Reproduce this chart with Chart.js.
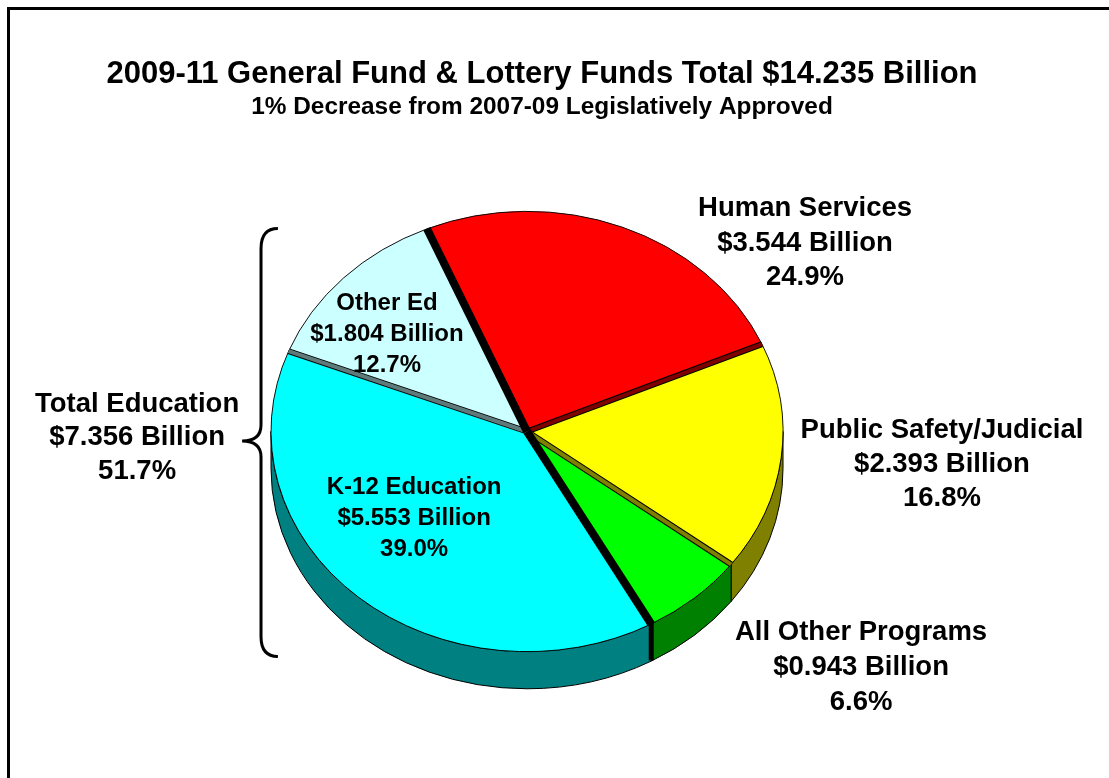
<!DOCTYPE html>
<html>
<head>
<meta charset="utf-8">
<title>2009-11 General Fund & Lottery Funds</title>
<script src="https://cdn.jsdelivr.net/npm/chart.js@4.4.1/dist/chart.umd.min.js"></script>
<style>
  html, body { margin: 0; padding: 0; background: #fff; }
  #wrap { position: relative; width: 1109px; height: 778px; }
  canvas { display: block; }
</style>
</head>
<body>
<div id="wrap"><canvas id="budgetPie" width="1109" height="778"></canvas></div>
<script>
// data
const categories = ["Human Services", "Public Safety/Judicial", "All Other Programs", "K-12 Education", "Other Ed"];
const billions = [3.544, 2.393, 0.943, 5.553, 1.804];
const percents = ["24.9%", "16.8%", "6.6%", "39.0%", "12.7%"];
const topColors = ["#ff0000", "#ffff00", "#00ff00", "#00ffff", "#ccffff"];
const sideColors = ["#800000", "#808000", "#008000", "#008080", "#668080"];
const groupLabel = ["Total Education", "$7.356 Billion", "51.7%"];
const chartTitle = "2009-11 General Fund & Lottery Funds Total $14.235 Billion";
const chartSubtitle = "1% Decrease from 2007-09 Legislatively Approved";

// look of the 3d pie
const tilt = 0.86;        // vertical squash of the top face
const depthRatio = 0.145; // side height / radius
const FONT = "Arial, 'Liberation Sans', Helvetica, sans-serif";

// label anchors, in units of the pie radius from the pie centre
const labelSpots = [
  { dx: 1.086, dy: -0.736, size: 27.5, lh: 34.5 },
  { dx: 1.621, dy: 0.127, size: 27.5, lh: 34 },
  { dx: 1.305, dy: 0.92, size: 27.5, lh: 35 },
  { dx: -0.441, dy: 0.338, size: 24, lh: 31 },
  { dx: -0.547, dy: -0.378, size: 24, lh: 31 },
];
const groupSpot = { dx: -1.523, dy: 0.025, size: 27.5, lh: 33.5 };

function pieGeom(chart) {
  let arcs = chart.getDatasetMeta(0).data;
  let a = arcs[0];
  return { arcs, cx: a.x, cy: a.y, R: a.outerRadius, ry: a.outerRadius * tilt, depth: a.outerRadius * depthRatio };
}

function edgePoint(g, ang) {
  return [g.cx + g.R * Math.cos(ang), g.cy + g.ry * Math.sin(ang)];
}

function radial(ctx, g, ang, width, color) {
  let [ex, ey] = edgePoint(g, ang);
  ctx.beginPath();
  ctx.moveTo(g.cx, g.cy);
  ctx.lineTo(ex, ey);
  ctx.lineWidth = width;
  ctx.strokeStyle = color;
  ctx.lineCap = "butt";
  ctx.stroke();
}

function drawLines(ctx, lines, x, y, size, lh) {
  ctx.font = "bold " + size + "px " + FONT;
  ctx.fillStyle = "#000";
  ctx.textAlign = "center";
  ctx.textBaseline = "middle";
  let top = y - ((lines.length - 1) * lh) / 2;
  lines.forEach((t, i) => ctx.fillText(t, x, top + i * lh));
}

const pie3d = {
  id: "pie3d",
  beforeDatasetsDraw(chart) {
    let ctx = chart.ctx;
    let g = pieGeom(chart);
    // side walls, only the front half is visible
    g.arcs.forEach((arc, i) => {
      [-2, 0, 2].forEach((k) => {
        let lo = Math.max(arc.startAngle, k * Math.PI);
        let hi = Math.min(arc.endAngle, k * Math.PI + Math.PI);
        if (hi <= lo) return;
        ctx.beginPath();
        ctx.ellipse(g.cx, g.cy, g.R, g.ry, 0, lo, hi);
        ctx.ellipse(g.cx, g.cy + g.depth, g.R, g.ry, 0, hi, lo, true);
        ctx.closePath();
        ctx.fillStyle = sideColors[i];
        ctx.fill();
        ctx.lineWidth = 1;
        ctx.strokeStyle = "#000";
        ctx.stroke();
      });
    });
    // squash the top face into an ellipse
    ctx.save();
    ctx.translate(g.cx, g.cy);
    ctx.scale(1, tilt);
    ctx.translate(-g.cx, -g.cy);
  },
  afterDatasetsDraw(chart) {
    let ctx = chart.ctx;
    ctx.restore();
    let g = pieGeom(chart);
    let arcs = g.arcs;

    // small cut faces between slices
    [[arcs[0].endAngle, sideColors[0]], [arcs[1].endAngle, sideColors[1]], [arcs[3].endAngle, "#5f7a7a"]].forEach(([ang, col]) => {
      radial(ctx, g, ang, 6, "#000");
      radial(ctx, g, ang, 4, col);
    });

    // thick split between education and the rest
    [arcs[0].startAngle, arcs[3].startAngle].forEach((ang) => {
      radial(ctx, g, ang, 8, "#000");
      if (Math.sin(ang) > 0) {
        let [ex, ey] = edgePoint(g, ang);
        ctx.beginPath();
        ctx.moveTo(ex, ey - 2);
        ctx.lineTo(ex, ey + g.depth * 0.98);
        ctx.lineWidth = 5;
        ctx.strokeStyle = "#000";
        ctx.stroke();
      }
    });
  },
  afterDraw(chart) {
    let ctx = chart.ctx;
    let g = pieGeom(chart);
    ctx.save();

    // frame
    ctx.beginPath();
    ctx.moveTo(8.5, chart.height);
    ctx.lineTo(8.5, 8.5);
    ctx.lineTo(chart.width, 8.5);
    ctx.lineWidth = 3;
    ctx.strokeStyle = "#000";
    ctx.stroke();

    // titles
    drawLines(ctx, [chartTitle], 542, 74, 31, 0);
    drawLines(ctx, [chartSubtitle], 542, 107, 24.4, 0);

    // slice labels
    categories.forEach((name, i) => {
      let s = labelSpots[i];
      let lines = [name, "$" + billions[i].toFixed(3) + " Billion", percents[i]];
      drawLines(ctx, lines, g.cx + s.dx * g.R, g.cy + s.dy * g.R, s.size, s.lh);
    });

    // brace around the education slices
    let xr = g.cx - 0.973 * g.R;
    let xm = g.cx - 1.039 * g.R;
    let xt = g.cx - 1.113 * g.R;
    let top = g.cy - 0.793 * g.R;
    let bot = g.cy + 0.879 * g.R;
    let mid = g.cy + 0.037 * g.R;
    ctx.beginPath();
    ctx.moveTo(xr, top);
    ctx.quadraticCurveTo(xm, top, xm, top + 20);
    ctx.lineTo(xm, mid - 16);
    ctx.quadraticCurveTo(xm, mid, xt, mid);
    ctx.quadraticCurveTo(xm, mid, xm, mid + 16);
    ctx.lineTo(xm, bot - 20);
    ctx.quadraticCurveTo(xm, bot, xr, bot);
    ctx.lineWidth = 3;
    ctx.strokeStyle = "#000";
    ctx.stroke();

    drawLines(ctx, groupLabel, g.cx + groupSpot.dx * g.R, g.cy + groupSpot.dy * g.R, groupSpot.size, groupSpot.lh);
    ctx.restore();
  },
};

const ctx = document.getElementById("budgetPie").getContext("2d");
const budgetChart = new Chart(ctx, {
  type: "pie",
  data: {
    labels: categories,
    datasets: [
      {
        data: billions,
        backgroundColor: topColors,
        borderColor: "#000",
        borderWidth: 1,
      },
    ],
  },
  options: {
    responsive: false,
    animation: false,
    rotation: -23,
    layout: { padding: { left: 270.5, right: 325.5, top: 175, bottom: 90 } },
    plugins: {
      legend: { display: false },
      title: { display: false },
      tooltip: { enabled: false },
    },
  },
  plugins: [pie3d],
});
</script>
</body>
</html>
